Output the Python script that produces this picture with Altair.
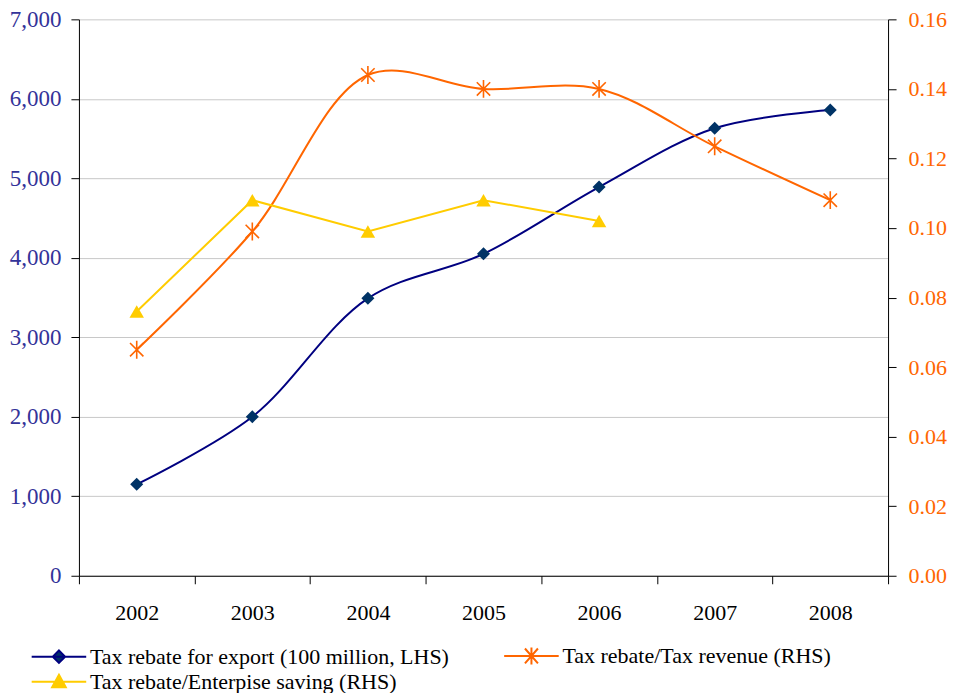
import altair as alt
import pandas as pd

years = ["2002", "2003", "2004", "2005", "2006", "2007", "2008"]
export_rebate = [1150, 2000, 3490, 4050, 4890, 5630, 5860]
rebate_revenue = [0.065, 0.099, 0.144, 0.140, 0.140, 0.1235, 0.108]
rebate_saving = [0.076, 0.108, 0.099, 0.108, 0.102, None, None]

names = [
    "Tax rebate for export (100 million, LHS)",
    "Tax rebate/Tax revenue (RHS)",
    "Tax rebate/Enterpise saving (RHS)",
]
line_colors = ["#000080", "#FF6600", "#FFCC00"]
fill_colors = ["#003366", "#FF6600", "#FFCC00"]

rows = []
for name, vals in zip(names, [export_rebate, rebate_revenue, rebate_saving]):
    for y, v in zip(years, vals):
        if v is not None:
            rows.append({"year": y, "series": name, "value": v})
df = pd.DataFrame(rows)

FONT = "Liberation Serif, Times New Roman, serif"
ASTERISK = "M0,-1L0,1M-0.75,-0.75L0.75,0.75M-0.75,0.75L0.75,-0.75"
# legend symbols: unit = 6.5 px (symbol size 169); horizontal line spans +-27.5 px
legend_paths = [
    "M-4.2,0L4.2,0M0,-0.95L0.95,0L0,0.95L-0.95,0Z",
    "M-4.2,0L4.2,0M0,-1.3L0,1.3M-1,-1.15L1,1.15M-1,1.15L1,-1.15",
    "M-4.2,0L4.2,0M0,-1.05L1.05,0.85L-1.05,0.85Z",
]

x_enc = alt.X(
    "year:O",
    scale=alt.Scale(type="band", paddingInner=0, paddingOuter=0),
    axis=alt.Axis(
        title=None, tickBand="extent", labelAngle=0, grid=False,
        domainColor="black", tickColor="black", tickSize=8,
        labelFont=FONT, labelFontSize=22, labelColor="black", labelPadding=19,
    ),
)

y_left = alt.Y(
    "value:Q",
    scale=alt.Scale(domain=[0, 7000]),
    axis=alt.Axis(
        title=None, values=[0, 1000, 2000, 3000, 4000, 5000, 6000, 7000],
        format=",.0f", grid=True, gridColor="#C8C8C8", domainColor="black",
        tickColor="black", tickSize=8, labelFont=FONT, labelFontSize=23,
        labelColor="#333399", labelPadding=10,
    ),
)

y_right = alt.Y(
    "value:Q",
    scale=alt.Scale(domain=[0, 0.16]),
    axis=alt.Axis(
        title=None, orient="right",
        values=[0, 0.02, 0.04, 0.06, 0.08, 0.10, 0.12, 0.14, 0.16],
        format=".2f", grid=False, domainColor="black", tickColor="black",
        tickSize=8, labelFont=FONT, labelFontSize=22, labelColor="#FF6600",
        labelPadding=12,
    ),
)

base = alt.Chart(df)


def sel(i):
    return alt.datum.series == names[i]


blue_line = base.transform_filter(sel(0)).mark_line(
    color=line_colors[0], strokeWidth=2, interpolate="catmull-rom"
).encode(x=x_enc, y=y_left)
blue_pts = base.transform_filter(sel(0)).mark_point(
    shape="diamond", filled=True, color=fill_colors[0], size=170, opacity=1
).encode(x=x_enc, y=y_left)

legend = alt.Legend(
    title=None, orient="none", legendX=-31, legendY=626, columns=2,
    direction="horizontal",
    columnPadding=50, rowPadding=2, symbolSize=169, symbolStrokeWidth=2,
    symbolOpacity=1, labelFont=FONT, labelFontSize=22, labelColor="black",
    labelLimit=0, labelOffset=20, padding=0,
)
legend_layer = base.mark_point(filled=True, opacity=0).encode(
    x=x_enc,
    y=y_left,
    fill=alt.Fill("series:N", sort=names, scale=alt.Scale(domain=names, range=fill_colors), legend=legend),
    stroke=alt.Stroke("series:N", sort=names, scale=alt.Scale(domain=names, range=line_colors), legend=legend),
    shape=alt.Shape("series:N", sort=names, scale=alt.Scale(domain=names, range=legend_paths), legend=legend),
)

left = alt.layer(blue_line, blue_pts, legend_layer)

orange_line = base.transform_filter(sel(1)).mark_line(
    color=line_colors[1], strokeWidth=2, interpolate="catmull-rom"
).encode(x=x_enc, y=y_right)
orange_pts = base.transform_filter(sel(1)).mark_point(
    shape=ASTERISK, filled=False, color=line_colors[1], size=320,
    strokeWidth=1.6, opacity=1
).encode(x=x_enc, y=y_right)
yellow_line = base.transform_filter(sel(2)).mark_line(
    color=line_colors[2], strokeWidth=2
).encode(x=x_enc, y=y_right)
yellow_pts = base.transform_filter(sel(2)).mark_point(
    shape="triangle-up", filled=True, color=fill_colors[2], size=210, opacity=1
).encode(x=x_enc, y=y_right)

right = alt.layer(orange_line, yellow_line, orange_pts, yellow_pts)

chart = (
    alt.layer(left, right)
    .resolve_scale(y="independent")
    .properties(
        width=810, height=557,
        padding={"left": 1, "top": 0, "right": 0, "bottom": 0},
        background="white",
    )
    .configure_view(strokeWidth=0)
)

chart.save("out.html", embed_options={"renderer": "svg", "actions": False})
